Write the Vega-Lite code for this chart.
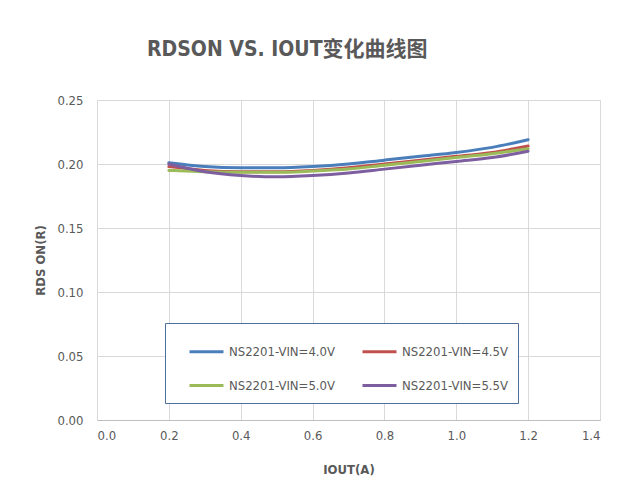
{
  "$schema": "https://vega.github.io/schema/vega-lite/v6.json",
  "width": 503,
  "height": 320,
  "autosize": {"type": "none"},
  "padding": {"left": 97, "top": 100, "right": 19, "bottom": 82},
  "background": "white",
  "title": {
    "text": "RDSON VS. IOUT变化曲线图",
    "anchor": "start",
    "frame": "group",
    "dx": 50,
    "offset": 34,
    "font": "DejaVu Sans Condensed, Noto Sans CJK SC",
    "fontSize": 21,
    "fontWeight": "bold",
    "color": "#595959"
  },
  "data": {
    "values": [
      {"iout": 0.2, "rdson": 0.201, "series": "NS2201-VIN=4.0V"},
      {"iout": 0.3, "rdson": 0.198, "series": "NS2201-VIN=4.0V"},
      {"iout": 0.4, "rdson": 0.197, "series": "NS2201-VIN=4.0V"},
      {"iout": 0.5, "rdson": 0.197, "series": "NS2201-VIN=4.0V"},
      {"iout": 0.6, "rdson": 0.198, "series": "NS2201-VIN=4.0V"},
      {"iout": 0.7, "rdson": 0.200, "series": "NS2201-VIN=4.0V"},
      {"iout": 0.8, "rdson": 0.203, "series": "NS2201-VIN=4.0V"},
      {"iout": 0.9, "rdson": 0.206, "series": "NS2201-VIN=4.0V"},
      {"iout": 1.0, "rdson": 0.209, "series": "NS2201-VIN=4.0V"},
      {"iout": 1.1, "rdson": 0.213, "series": "NS2201-VIN=4.0V"},
      {"iout": 1.2, "rdson": 0.219, "series": "NS2201-VIN=4.0V"},
      {"iout": 0.2, "rdson": 0.198, "series": "NS2201-VIN=4.5V"},
      {"iout": 0.3, "rdson": 0.195, "series": "NS2201-VIN=4.5V"},
      {"iout": 0.4, "rdson": 0.194, "series": "NS2201-VIN=4.5V"},
      {"iout": 0.5, "rdson": 0.194, "series": "NS2201-VIN=4.5V"},
      {"iout": 0.6, "rdson": 0.195, "series": "NS2201-VIN=4.5V"},
      {"iout": 0.7, "rdson": 0.197, "series": "NS2201-VIN=4.5V"},
      {"iout": 0.8, "rdson": 0.200, "series": "NS2201-VIN=4.5V"},
      {"iout": 0.9, "rdson": 0.203, "series": "NS2201-VIN=4.5V"},
      {"iout": 1.0, "rdson": 0.206, "series": "NS2201-VIN=4.5V"},
      {"iout": 1.1, "rdson": 0.209, "series": "NS2201-VIN=4.5V"},
      {"iout": 1.2, "rdson": 0.214, "series": "NS2201-VIN=4.5V"},
      {"iout": 0.2, "rdson": 0.195, "series": "NS2201-VIN=5.0V"},
      {"iout": 0.3, "rdson": 0.194, "series": "NS2201-VIN=5.0V"},
      {"iout": 0.4, "rdson": 0.1935, "series": "NS2201-VIN=5.0V"},
      {"iout": 0.5, "rdson": 0.1935, "series": "NS2201-VIN=5.0V"},
      {"iout": 0.6, "rdson": 0.1945, "series": "NS2201-VIN=5.0V"},
      {"iout": 0.7, "rdson": 0.196, "series": "NS2201-VIN=5.0V"},
      {"iout": 0.8, "rdson": 0.199, "series": "NS2201-VIN=5.0V"},
      {"iout": 0.9, "rdson": 0.202, "series": "NS2201-VIN=5.0V"},
      {"iout": 1.0, "rdson": 0.205, "series": "NS2201-VIN=5.0V"},
      {"iout": 1.1, "rdson": 0.208, "series": "NS2201-VIN=5.0V"},
      {"iout": 1.2, "rdson": 0.212, "series": "NS2201-VIN=5.0V"},
      {"iout": 0.2, "rdson": 0.200, "series": "NS2201-VIN=5.5V"},
      {"iout": 0.3, "rdson": 0.194, "series": "NS2201-VIN=5.5V"},
      {"iout": 0.4, "rdson": 0.191, "series": "NS2201-VIN=5.5V"},
      {"iout": 0.5, "rdson": 0.190, "series": "NS2201-VIN=5.5V"},
      {"iout": 0.6, "rdson": 0.191, "series": "NS2201-VIN=5.5V"},
      {"iout": 0.7, "rdson": 0.193, "series": "NS2201-VIN=5.5V"},
      {"iout": 0.8, "rdson": 0.196, "series": "NS2201-VIN=5.5V"},
      {"iout": 0.9, "rdson": 0.199, "series": "NS2201-VIN=5.5V"},
      {"iout": 1.0, "rdson": 0.202, "series": "NS2201-VIN=5.5V"},
      {"iout": 1.1, "rdson": 0.205, "series": "NS2201-VIN=5.5V"},
      {"iout": 1.2, "rdson": 0.210, "series": "NS2201-VIN=5.5V"}
    ]
  },
  "mark": {"type": "line", "interpolate": "monotone", "strokeWidth": 3, "strokeCap": "round"},
  "encoding": {
    "x": {
      "field": "iout",
      "type": "quantitative",
      "scale": {"domain": [0, 1.4], "nice": false},
      "axis": {
        "title": "IOUT(A)",
        "values": [0, 0.2, 0.4, 0.6, 0.8, 1.0, 1.2, 1.4],
        "format": ".1f",
        "grid": true,
        "ticks": false,
        "labelPadding": 9,
        "titlePadding": 21
      }
    },
    "y": {
      "field": "rdson",
      "type": "quantitative",
      "scale": {"domain": [0, 0.25], "nice": false},
      "axis": {
        "title": "RDS ON(R)",
        "values": [0, 0.05, 0.1, 0.15, 0.2, 0.25],
        "format": ".2f",
        "grid": true,
        "ticks": false,
        "domain": false,
        "labelPadding": 14,
        "titlePadding": 9
      }
    },
    "color": {
      "field": "series",
      "type": "nominal",
      "scale": {
        "domain": ["NS2201-VIN=4.0V", "NS2201-VIN=4.5V", "NS2201-VIN=5.0V", "NS2201-VIN=5.5V"],
        "range": ["#4a7ebb", "#c0504d", "#9bbb59", "#7d5fa0"]
      },
      "legend": {
        "title": null,
        "orient": "none",
        "legendX": 68,
        "legendY": 223,
        "columns": 2,
        "direction": "horizontal",
        "symbolType": "stroke",
        "symbolSize": 1156,
        "symbolStrokeWidth": 3,
        "symbolOffset": 13,
        "labelFont": "DejaVu Sans Condensed, Liberation Sans",
        "labelFontSize": 13,
        "labelColor": "#595959",
        "labelOffset": 4,
        "columnPadding": 13,
        "rowPadding": 8,
        "padding": 10,
        "strokeColor": "#4f6f9a",
        "fillColor": "white"
      }
    }
  },
  "config": {
    "view": {"stroke": null},
    "axis": {
      "labelFont": "DejaVu Sans Condensed, Liberation Sans",
      "labelFontSize": 13,
      "labelColor": "#595959",
      "titleFont": "DejaVu Sans Condensed, Liberation Sans",
      "titleFontSize": 13,
      "titleFontWeight": "bold",
      "titleColor": "#595959",
      "gridColor": "#d9d9d9",
      "domainColor": "#bfbfbf"
    }
  }
}
